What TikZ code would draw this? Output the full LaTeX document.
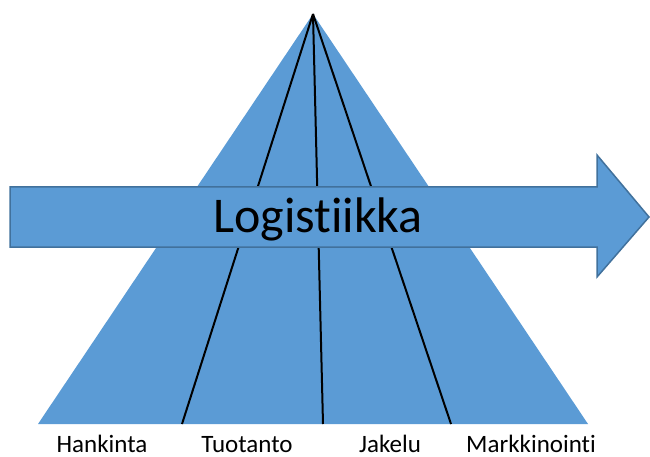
\documentclass[tikz,border=0pt]{standalone}
\usepackage{fontspec}
\setmainfont{Carlito}[Ligatures=NoCommon]
\definecolor{fillblue}{HTML}{5B9BD5}
\definecolor{edgeblue}{HTML}{41719C}
\begin{document}
\begin{tikzpicture}[x=1pt,y=-1pt,
  divider/.style={draw=black,line width=2pt},
  label/.style={anchor=base,font=\fontsize{25}{30}\selectfont,inner sep=0pt}]
\useasboundingbox (0,0) rectangle (650,457);
% pyramid
\coordinate (apex) at (313,14);
\coordinate (bl) at (38,424);
\coordinate (br) at (588,424);
\fill[fillblue] (apex) -- (br) -- (bl) -- cycle;
% dividing lines
\coordinate (d1) at (182,424);
\coordinate (d2) at (323,424);
\coordinate (d3) at (451,424);
\draw[divider] (apex) -- (d1);
\draw[divider] (apex) -- (d2);
\draw[divider] (apex) -- (d3);
% arrow
\filldraw[fill=fillblue,draw=edgeblue,line width=1.5pt,line join=miter]
  (10,187) -- (597,187) -- (597,155) -- (649,217) -- (597,277) -- (597,247) -- (10,247) -- cycle;
\node[anchor=base,font=\fontsize{50}{60}\selectfont,inner sep=0pt] (logi) at (318,232) {Logistiikka};
% labels
\node[label] (hank) at (102,452) {Hankinta};
\node[label] (tuot) at (247,452) {Tuotanto};
\node[label] (jake) at (390,452) {Jakelu};
\node[label] (mark) at (531,452) {Markkinointi};
\end{tikzpicture}
\end{document}
